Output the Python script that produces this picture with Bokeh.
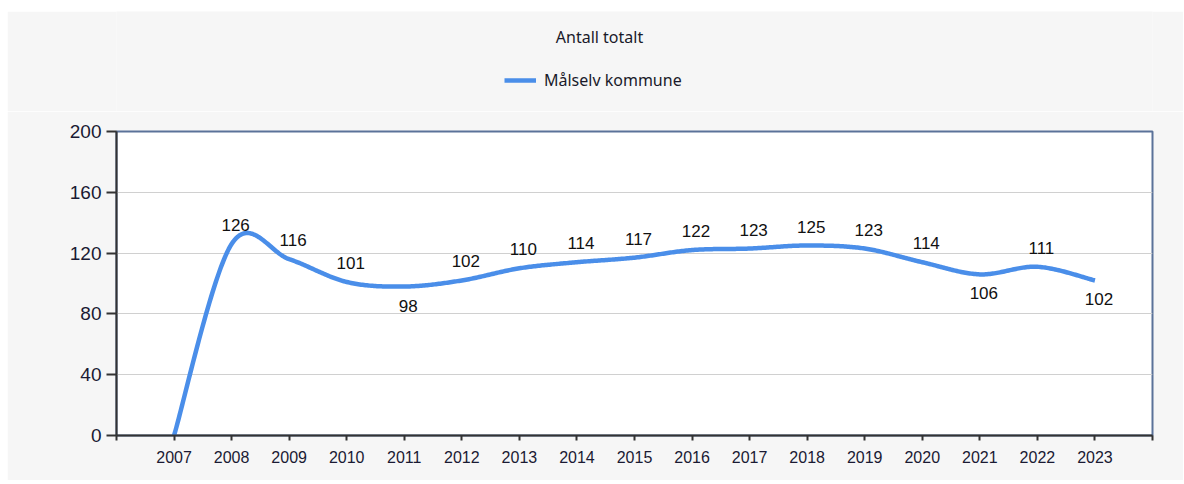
import numpy as np
from bokeh.plotting import figure
from bokeh.models import (Range1d, FixedTicker, ColumnDataSource, Label, Legend,
                          LegendItem, Spacer)
from bokeh.layouts import column, row
from bokeh.core.properties import value
from bokeh.embed import file_html
from bokeh.resources import INLINE

# ---- data ----
years = [2007, 2008, 2009, 2010, 2011, 2012, 2013, 2014, 2015,
         2016, 2017, 2018, 2019, 2020, 2021, 2022, 2023]
counts = [0, 126, 116, 101, 98, 102, 110, 114, 117,
          122, 123, 125, 123, 114, 106, 111, 102]
series_name = "Målselv kommune"
title_text = "Antall totalt"
y_ticks = [0, 40, 80, 120, 160, 200]

LINE_COLOR = "#4a8ee9"
PANEL = "#f6f6f6"

# ---- Catmull-Rom (cardinal, tension 0.5) spline through the points ----
def spline(xs, ys, n=40):
    P = np.column_stack([xs, ys]).astype(float)
    out = []
    m = len(P)
    for i in range(m - 1):
        p0 = P[i - 1] if i > 0 else P[i]
        p1 = P[i]
        p2 = P[i + 1]
        p3 = P[i + 2] if i + 2 < m else P[i + 1]
        c1 = p1 + (p2 - p0) / 6.0
        c2 = p2 - (p3 - p1) / 6.0
        t = np.linspace(0, 1, n, endpoint=(i == m - 2))[:, None]
        seg = ((1 - t) ** 3) * p1 + 3 * ((1 - t) ** 2) * t * c1 + 3 * (1 - t) * t ** 2 * c2 + t ** 3 * p2
        out.append(seg)
    arr = np.vstack(out)
    return arr[:, 0], arr[:, 1]

sx, sy = spline(years, counts)

W = 1176
TOP_H = 100
MAIN_H = 369
OX, OY = 7, 11                      # page offset of the panel
FR_L, FR_R = 116, 1152              # frame left/right on the page
MB_L = FR_L - OX
MB_R = W - (FR_R - OX)

# ---------------- header (title + legend) ----------------
top = figure(width=W, height=TOP_H, output_backend="svg", toolbar_location=None,
             x_range=Range1d(FR_L, FR_R), y_range=Range1d(OY + TOP_H, OY),
             min_border_left=MB_L, min_border_right=MB_R,
             min_border_top=0, min_border_bottom=0,
             x_axis_type=None, y_axis_type=None)
top.border_fill_color = PANEL
top.background_fill_color = PANEL
top.outline_line_color = None
top.grid.grid_line_color = None

top.add_layout(Label(x=599, y=36, text=title_text,
                     text_font="Noto Sans", text_font_size="16px",
                     text_color="#1a1a2a", text_align="center", text_baseline="middle"))

dummy = top.line([0, 1], [0, 0], line_color=LINE_COLOR, line_width=4.5)
legend = Legend(items=[LegendItem(label=series_name, renderers=[dummy])],
                location=(504 - FR_L, OY + TOP_H - 91), orientation="horizontal",
                label_text_font="Noto Sans", label_text_font_size="16px",
                label_text_color="#1a1a2a", glyph_width=32, glyph_height=16,
                label_height=16, background_fill_alpha=0, border_line_color=None,
                padding=0, margin=0, label_standoff=8, spacing=0)
top.add_layout(legend, "center")

# ---------------- main chart ----------------
p = figure(width=W, height=MAIN_H, output_backend="svg", toolbar_location=None,
           x_range=Range1d(years[0] - 1, years[-1] + 1),
           y_range=Range1d(y_ticks[0], y_ticks[-1]),
           min_border_left=MB_L, min_border_right=MB_R,
           min_border_top=20, min_border_bottom=45)

p.border_fill_color = PANEL
p.background_fill_color = "white"
p.outline_line_color = "#5b7299"
p.outline_line_width = 2

p.xgrid.grid_line_color = None
p.ygrid.grid_line_color = "#d0d0d0"
p.ygrid.grid_line_width = 1
p.ygrid.ticker = FixedTicker(ticks=y_ticks)

xticks = list(range(years[0] - 1, years[-1] + 2))
p.xaxis.ticker = FixedTicker(ticks=xticks)
p.xaxis.major_label_overrides = {t: (str(t) if t in years else "") for t in xticks}
p.xaxis.major_label_text_font = "Liberation Sans"
p.xaxis.major_label_text_font_size = "16px"
p.xaxis.major_label_text_color = "#1a1a33"
p.xaxis.major_tick_in = 0
p.xaxis.major_tick_out = 5
p.xaxis.minor_tick_line_color = None
p.xaxis.axis_line_color = "#333333"
p.xaxis.axis_line_width = 2
p.xaxis.major_tick_line_color = "#333333"
p.xaxis.major_tick_line_width = 2
p.xaxis.major_label_standoff = 10

p.yaxis.ticker = FixedTicker(ticks=y_ticks)
p.yaxis.major_label_text_font = "Liberation Sans"
p.yaxis.major_label_text_font_size = "19px"
p.yaxis.major_label_text_color = "#1a1a33"
p.yaxis.major_tick_in = 0
p.yaxis.major_tick_out = 10
p.yaxis.minor_tick_line_color = None
p.yaxis.axis_line_color = "#333333"
p.yaxis.axis_line_width = 2
p.yaxis.major_tick_line_color = "#333333"
p.yaxis.major_tick_line_width = 2
p.yaxis.major_label_standoff = 5

p.line(sx, sy, line_color=LINE_COLOR, line_width=4.5, line_join="round")

# data labels (below at local minima / falling end, otherwise above)
lx, ly, lt, loff = [], [], [], []
for i, (x, v) in enumerate(zip(years, counts)):
    if v == 0:
        continue
    prev_v = counts[i - 1] if i > 0 else None
    next_v = counts[i + 1] if i + 1 < len(counts) else None
    below = (prev_v is not None and v < prev_v) and (next_v is None or v < next_v)
    lx.append(x)
    ly.append(v)
    lt.append(str(v))
    loff.append(19 if below else -19)
src = ColumnDataSource(dict(x=lx, y=ly, t=lt, off=loff))
p.text(x="x", y="y", text="t", source=src, y_offset="off", x_offset=4,
       text_align="center", text_baseline="middle",
       text_font=value("Liberation Sans"), text_font_size="17px",
       text_color="#111111")

layout = column(Spacer(height=OY, width=W + OX),
                row(Spacer(width=OX, height=TOP_H + MAIN_H), column(top, p)))
open("out.html", "w").write(file_html(layout, INLINE))
